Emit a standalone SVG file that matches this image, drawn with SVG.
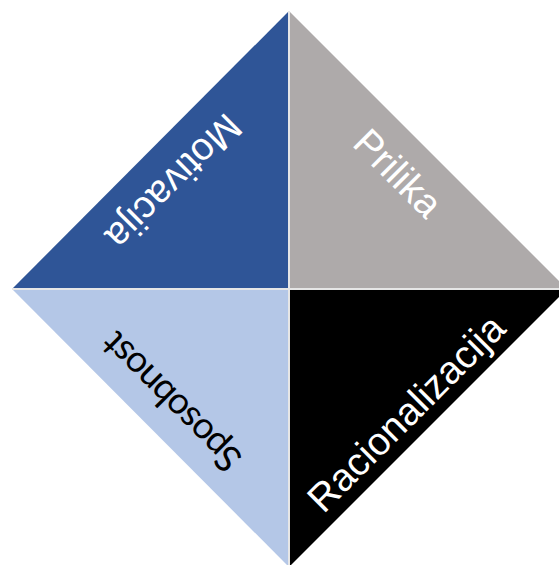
<svg xmlns="http://www.w3.org/2000/svg" width="559" height="565" viewBox="0 0 559 565">
<style>
.lbl{font-family:"Liberation Sans",Arial,sans-serif;font-size:39px;text-anchor:middle;dominant-baseline:central}
.cal{font-family:Lato,"Open Sans",sans-serif;font-size:37px;text-anchor:middle;dominant-baseline:central}
.div{stroke:#e6e6e6;stroke-width:2}
</style>
<rect width="559" height="565" fill="#ffffff"/>
<g id="motivacija">
<polygon points="289,11 289,289 12,289" fill="#2F5597"/>
<text class="lbl" fill="#ffffff" transform="translate(174,182) rotate(135)">Motivacija</text>
</g>
<g id="prilika">
<polygon points="289,11 567,289 289,289" fill="#AEAAAA"/>
<text class="lbl" fill="#ffffff" transform="translate(398,173) rotate(45)">Prilika</text>
</g>
<g id="sposobnost">
<polygon points="12,289 289,289 289,567" fill="#B4C7E7"/>
<text class="cal" fill="#000000" textLength="180" transform="translate(170,403) rotate(225)">Sposobnost</text>
</g>
<g id="racionalizacija">
<polygon points="289,289 567,289 289,567" fill="#000000"/>
<text class="lbl" fill="#ffffff" transform="translate(406,413) rotate(-45)">Racionalizacija</text>
</g>
<g id="connectors">
<line class="div" x1="289" y1="11" x2="289" y2="567"/>
<line class="div" x1="12" y1="289" x2="567" y2="289"/>
</g>
</svg>
